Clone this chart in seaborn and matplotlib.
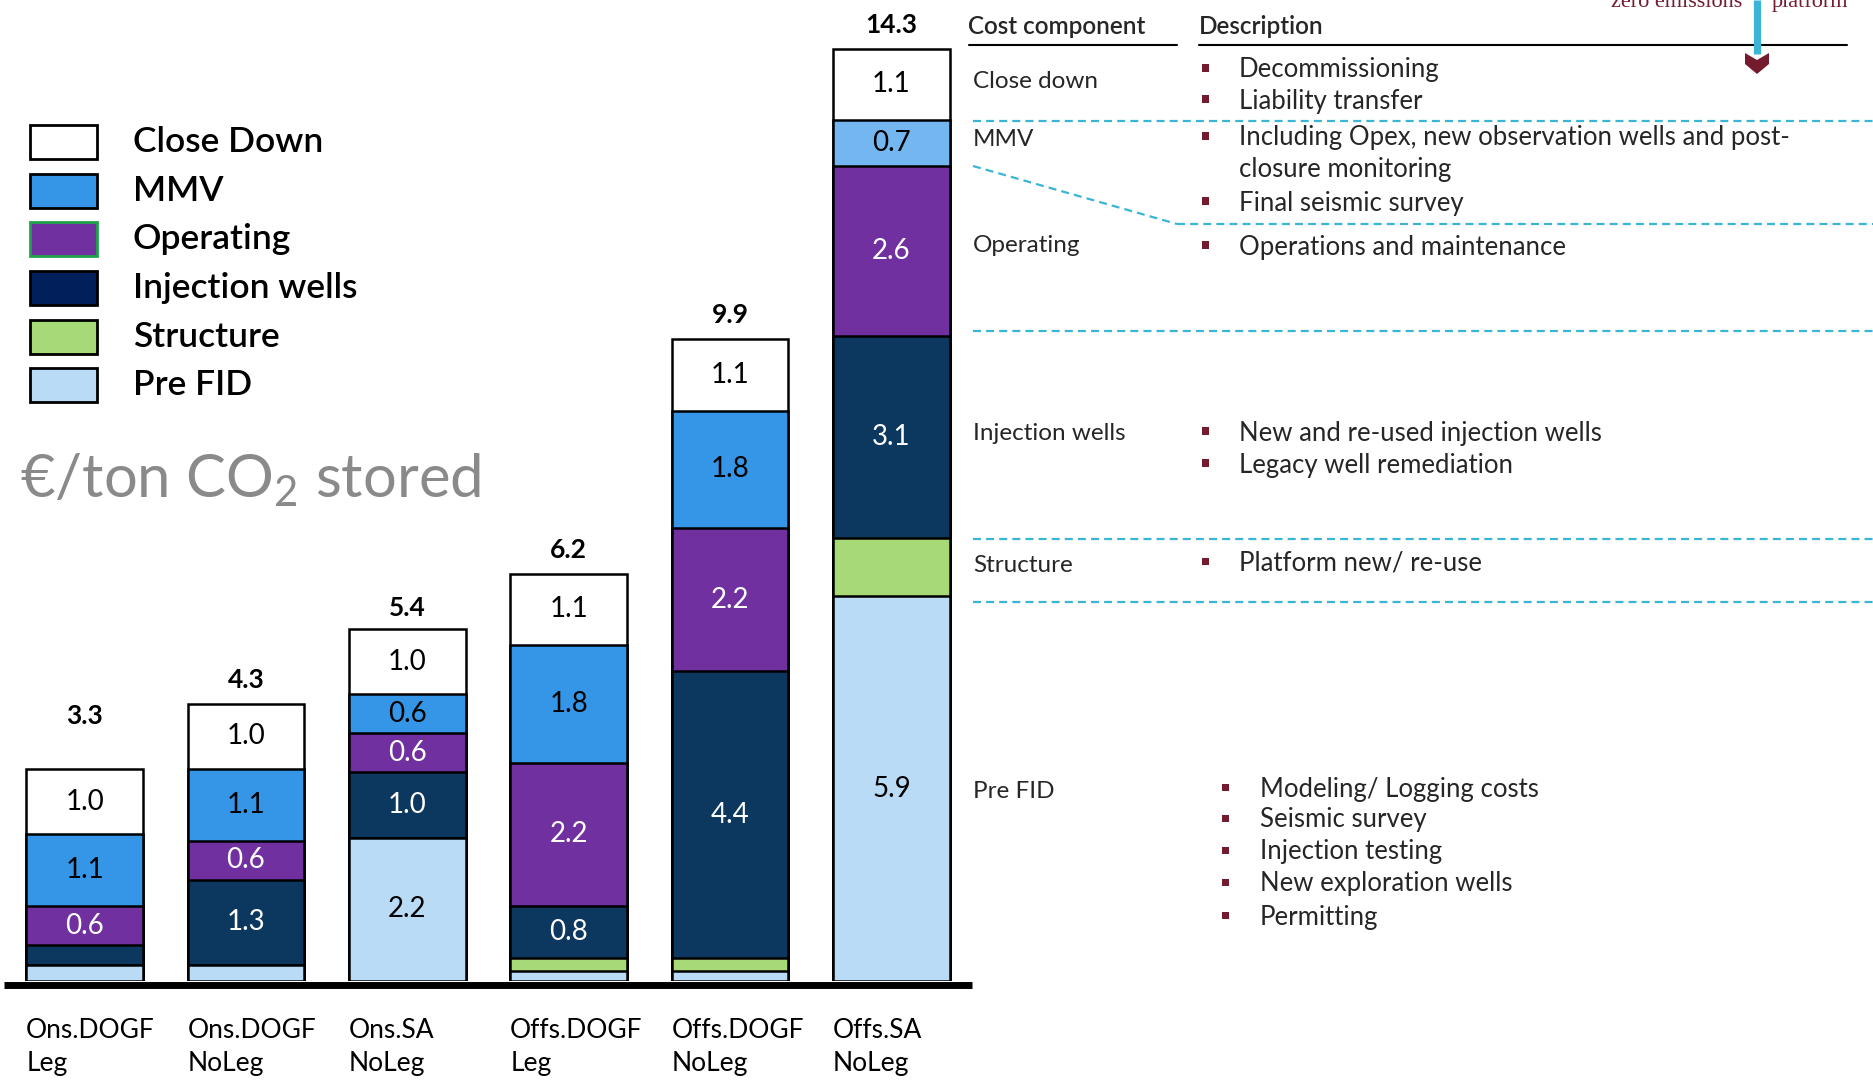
import matplotlib
matplotlib.use("Agg")
import matplotlib.pyplot as plt
import matplotlib.transforms as mtransforms
from matplotlib.lines import Line2D
from matplotlib.patches import Rectangle, Polygon
import seaborn as sns
import numpy as np

# ---------------- data ----------------
categories = ["Ons.DOGF\nLeg", "Ons.DOGF\nNoLeg", "Ons.SA\nNoLeg",
              "Offs.DOGF\nLeg", "Offs.DOGF\nNoLeg", "Offs.SA\nNoLeg"]
pre_fid    = [0.25, 0.25, 2.2, 0.15, 0.15, 5.9]
structure  = [0.0, 0.0, 0.0, 0.2, 0.2, 0.9]
injection  = [0.3, 1.3, 1.0, 0.8, 4.4, 3.1]
operating  = [0.6, 0.6, 0.6, 2.2, 2.2, 2.6]
mmv        = [1.1, 1.1, 0.6, 1.8, 1.8, 0.7]
close_down = [1.0, 1.0, 1.0, 1.1, 1.1, 1.1]
totals     = [3.3, 4.3, 5.4, 6.2, 9.9, 14.3]

legend_labels = ["Close Down", "MMV", "Operating", "Injection wells", "Structure", "Pre FID"]

table_components = ["Close down", "MMV", "Operating", "Injection wells", "Structure", "Pre FID"]
desc_close = ["Decommissioning", "Liability transfer"]
desc_mmv = ["Including Opex, new observation wells and post-", "closure monitoring", "Final seismic survey"]
desc_oper = ["Operations and maintenance"]
desc_inj = ["New and re-used injection wells", "Legacy well remediation"]
desc_struct = ["Platform new/ re-use"]
desc_prefid = ["Modeling/ Logging costs", "Seismic survey", "Injection testing",
               "New exploration wells", "Permitting"]

# ---------------- style ----------------
C_CLOSE = "#ffffff"
C_MMV = "#3596e8"
C_MMV_LIGHT = "#74b7f0"
C_OPER = "#7030a0"
C_INJ = "#0c375e"
C_INJ_LEG = "#001f5b"
C_STRUCT = "#a8d977"
C_PRE = "#b9dbf6"
C_RED = "#741c2e"
C_CYAN = "#3bb5d6"

sns.set_style("white")
FONT = ["Lato", "DejaVu Sans"]
plt.rcParams["font.family"] = FONT

W, H = 1874, 1088
fig = plt.figure(figsize=(W / 100, H / 100), dpi=100)
fig.patch.set_facecolor("white")

def fx(x):
    return x / W

def fy(y):
    return 1 - y / H

PXU = 65.2  # pixels per unit
BASE = 981
ax = fig.add_axes([fx(4), fy(BASE), (972 - 4) / W, (BASE - 3) / H])

layers = [pre_fid, structure, injection, operating, mmv, close_down]
colors = [C_PRE, C_STRUCT, C_INJ, C_OPER, C_MMV, C_CLOSE]
cums = np.cumsum(np.array(layers), axis=0)

# draw from the top of the stack downward
for k in range(len(layers) - 1, -1, -1):
    sns.barplot(x=categories, y=cums[k], color=colors[k], saturation=1,
                width=0.725, edgecolor="black", linewidth=1.8,
                errorbar=None, ax=ax)
    if k == 4:
        # lighter MMV in the last bar
        ax.containers[-1].patches[5].set_facecolor(C_MMV_LIGHT)

ax.set_xlim(-0.5, 5.5)
ax.set_ylim(0, (BASE - 3) / PXU)
ax.axis("off")

# value labels
text_colors = ["black", None, "white", "white", "black", "black"]
bottoms = np.vstack([np.zeros(len(categories)), cums[:-1]])
for k, layer in enumerate(layers):
    if text_colors[k] is None:
        continue
    for i, v in enumerate(layer):
        if v >= 0.5:
            ax.text(i, bottoms[k][i] + v / 2, f"{v:.1f}", ha="center", va="center",
                    fontsize=20, color=text_colors[k])

# totals
total_pad = [38, 17, 15, 17, 17, 17]
for i, t in enumerate(totals):
    ax.annotate(f"{t:.1f}", xy=(i, cums[-1][i]), xytext=(0, total_pad[i]),
                textcoords="offset points", ha="center", va="center",
                fontsize=19, fontweight="bold", color="black")

# category labels
blend = mtransforms.blended_transform_factory(ax.transData, fig.transFigure)
for i, c in enumerate(categories):
    for j, line in enumerate(c.split("\n")):
        ax.text(i - 0.3625, fy(1030 + 33 * j), line, transform=blend,
                ha="left", va="center", fontsize=19, color="black")

# thick baseline
fig.add_artist(Line2D([fx(4), fx(972)], [fy(984.5), fy(984.5)], color="black",
                      lw=5.0, solid_capstyle="butt"))

# legend
leg_colors = [C_CLOSE, C_MMV, C_OPER, C_INJ_LEG, C_STRUCT, C_PRE]
leg_edges = ["black", "black", "#1fa34a", "black", "black", "black"]
for r, (lab, fc, ec) in enumerate(zip(legend_labels, leg_colors, leg_edges)):
    yc = 142 + 48.7 * r
    fig.add_artist(Rectangle((fx(30), fy(yc + 17)), 67 / W, 34 / H, transform=fig.transFigure,
                             facecolor=fc, edgecolor=ec, lw=2.0))
    fig.text(fx(133), fy(yc), lab, ha="left", va="center", fontsize=25.5,
             fontweight="semibold", color="black")

fig.text(fx(20), fy(497), r"€/ton CO$_\mathregular{2}$ stored", ha="left", va="baseline",
         fontsize=43, color="#8a8a8a", fontweight="normal")

# ---------------- table ----------------
fig.text(fx(968), fy(26), "Cost component", ha="left", va="center", fontsize=17.5,
         fontweight="semibold")
fig.text(fx(1199), fy(26), "Description", ha="left", va="center", fontsize=17.5,
         fontweight="semibold")
fig.add_artist(Line2D([fx(969), fx(1177)], [fy(45), fy(45)], color="black", lw=1.5))
fig.add_artist(Line2D([fx(1199), fx(1847)], [fy(45), fy(45)], color="black", lw=1.5))

comp_y = [82, 140, 246, 433, 566, 791]
for name, yy in zip(table_components, comp_y):
    fig.text(fx(973), fy(yy), name, ha="left", va="center", fontsize=17.5)

def bullets(lines, ys, xb, xt, bullet_flags=None):
    for n, (ln, yy) in enumerate(zip(lines, ys)):
        if bullet_flags is None or bullet_flags[n]:
            fig.add_artist(Rectangle((fx(xb - 3.5), fy(yy - 2 + 3.5)), 7 / W, 7 / H,
                                     transform=fig.transFigure, facecolor=C_RED, edgecolor="none"))
        fig.text(fx(xt), fy(yy), ln, ha="left", va="center", fontsize=18.5)

bullets(desc_close, [70, 101], 1206, 1239)
bullets(desc_mmv, [138, 170, 203], 1206, 1239, [True, False, True])
bullets(desc_oper, [247], 1206, 1239)
bullets(desc_inj, [433, 465], 1206, 1239)
bullets(desc_struct, [563], 1206, 1239)
bullets(desc_prefid, [789, 820, 852, 884, 917], 1226, 1260)

dash = (0, (3.6, 2.3))
def dline(xs, ys):
    fig.add_artist(Line2D([fx(v) for v in xs], [fy(v) for v in ys], color=C_CYAN,
                          lw=1.6, linestyle=dash))

dline([973, W], [121, 121])
dline([973, 1177], [166, 224])
dline([1177, W], [224, 224])
dline([973, W], [331, 331])
dline([973, W], [539, 539])
dline([973, W], [602, 602])

# top-right fragment (cut off at the top edge, as in the original slide)
fig.text(fx(1742), fy(7), "zero emissions", ha="right", va="baseline", fontsize=16,
         color=C_RED, family=["Liberation Serif", "DejaVu Serif"])
fig.text(fx(1772), fy(7), "platform", ha="left", va="baseline", fontsize=16,
         color=C_RED, family=["Liberation Serif", "DejaVu Serif"])
fig.add_artist(Line2D([fx(1757), fx(1757)], [fy(0), fy(54)], color=C_CYAN, lw=5.2,
                      solid_capstyle="butt"))
chev = [(1745, 53), (1757, 60), (1769, 53), (1769, 64), (1757, 74), (1745, 64)]
fig.add_artist(Polygon([(fx(a), fy(b)) for a, b in chev], closed=True,
                       transform=fig.transFigure, facecolor=C_RED, edgecolor="none"))

fig.savefig("out.png", dpi=100, facecolor="white")
